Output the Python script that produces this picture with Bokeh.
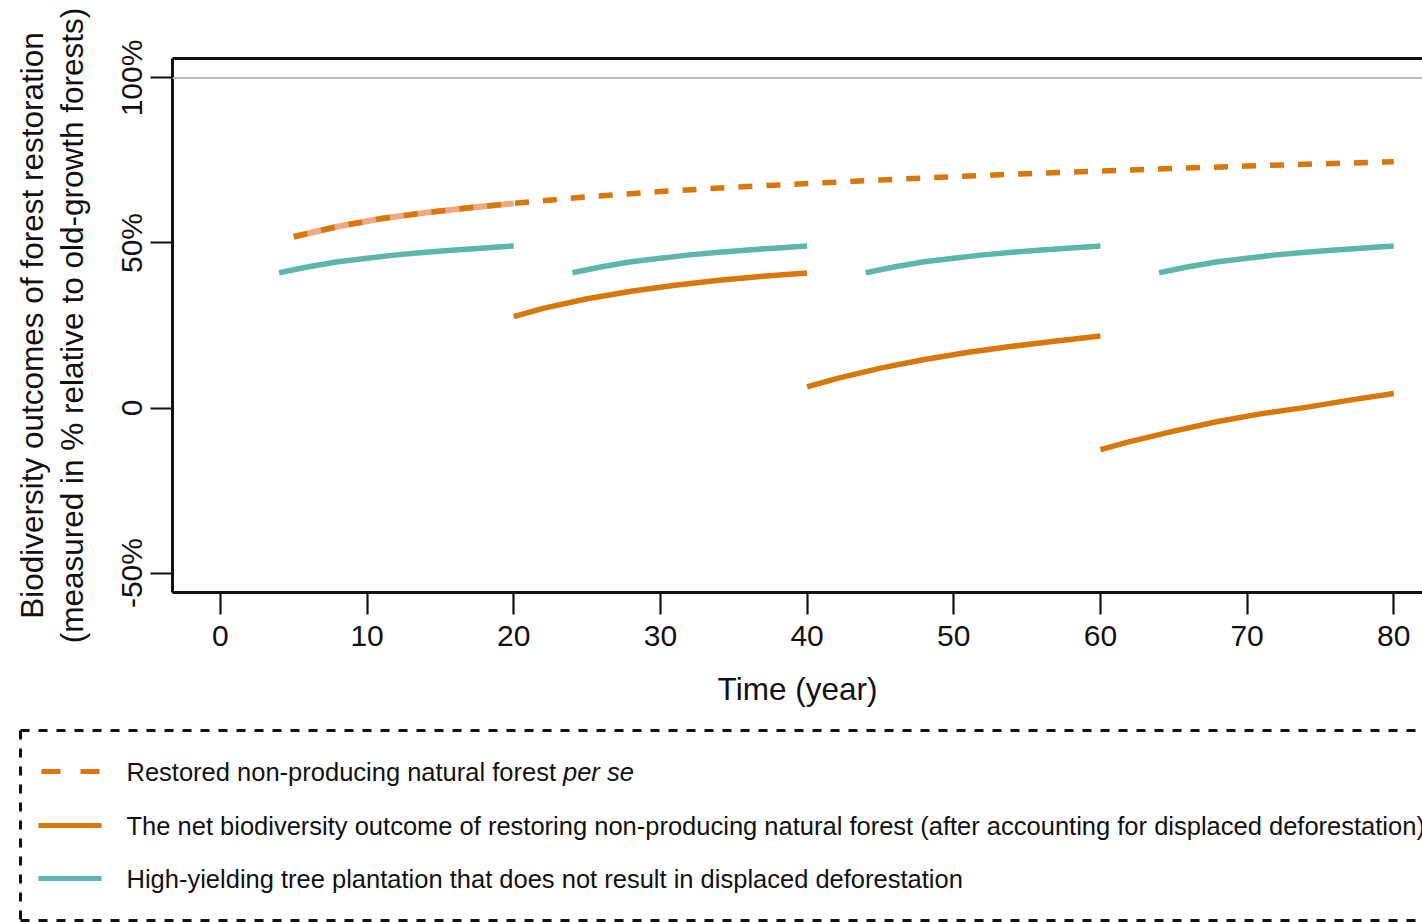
from bokeh.plotting import figure
from bokeh.models import Range1d, LinearAxis, FixedTicker, Span
from bokeh.embed import file_html
from bokeh.resources import INLINE
from bokeh.core.properties import value

FONT = "Liberation Sans"
INK = "#111111"
ORANGE = "#d8770b"
ORANGE_LIGHT = "#eeaa7e"
TEAL = "#5cb6aa"

# Restored non-producing natural forest (per se), biodiversity in % of old growth
natural_years = [5, 8, 11, 14, 17, 20, 25, 30, 35, 40, 45, 50, 55, 60, 65, 70, 75, 80]
natural_values = [51.9, 55.0, 57.4, 59.2, 60.7, 62.0, 64.0, 65.6, 66.9, 68.0,
                  69.1, 70.1, 71.0, 71.8, 72.6, 73.3, 74.0, 74.6]
first_rotation_end = 20

# Net outcome of restoration after displaced deforestation, one run per rotation
net_years_1 = [20, 22, 25, 28, 31, 34, 37, 40]
net_values_1 = [27.7, 30.2, 33.1, 35.4, 37.2, 38.7, 39.9, 40.9]
net_years_2 = [40, 42, 45, 48, 51, 54, 57, 60]
net_values_2 = [6.4, 8.9, 12.1, 14.7, 16.9, 18.7, 20.3, 21.8]
net_years_3 = [60, 62, 65, 68, 71, 74, 77, 80]
net_values_3 = [-12.6, -10.2, -7.0, -4.1, -1.7, 0.2, 2.4, 4.4]

# High-yielding plantation: same growth curve within each 20-year rotation
plantation_age = [4, 6, 8, 10, 12, 14, 16, 18, 20]
plantation_values = [41.0, 42.8, 44.3, 45.4, 46.4, 47.2, 47.9, 48.5, 49.1]
rotation_starts = [0, 20, 40, 60]

x_ticks = [0, 10, 20, 30, 40, 50, 60, 70, 80]
y_ticks = [-50, 0, 50, 100]
y_tick_labels = ["-50%", "0", "50%", "100%"]
reference_level = 100

legend_labels = [
    "Restored non-producing natural forest",
    "The net biodiversity outcome of restoring non-producing natural forest (after accounting for displaced deforestation)",
    "High-yielding tree plantation that does not result in displaced deforestation",
]
legend_italic_suffix = "per se"

# ---------------------------------------------------------------- main panel
p = figure(width=1422, height=710,
           x_range=Range1d(-3.27, 81.96), y_range=Range1d(-55.9, 105.9),
           output_backend="svg", toolbar_location=None,
           min_border_left=172, min_border_right=0,
           min_border_top=58, min_border_bottom=118)
p.grid.visible = False
p.outline_line_color = None
p.background_fill_color = "white"
p.border_fill_color = "white"

xa = p.xaxis[0]
xa.ticker = FixedTicker(ticks=x_ticks)
xa.axis_label = "Time (year)"
ya = p.yaxis[0]
ya.ticker = FixedTicker(ticks=y_ticks)
ya.major_label_overrides = dict(zip(y_ticks, y_tick_labels))
ya.major_label_orientation = "vertical"
ya.axis_label = "Biodiversity outcomes of forest restoration\n(measured in % relative to old-growth forests)"

for ax in (xa, ya):
    ax.axis_line_width = 3
    ax.axis_line_color = INK
    ax.major_tick_line_width = 2.2
    ax.major_tick_line_color = INK
    ax.major_tick_out = 22
    ax.major_tick_in = 0
    ax.minor_tick_out = 0
    ax.minor_tick_in = 0
    ax.major_label_text_font = FONT
    ax.major_label_text_font_size = "30px"
    ax.major_label_text_color = INK
    ax.axis_label_text_font = FONT
    ax.axis_label_text_font_size = "31.5px"
    ax.axis_label_text_font_style = "normal"
    ax.axis_label_text_color = INK
xa.major_label_standoff = 11
xa.axis_label_standoff = 22
ya.major_label_standoff = 2
ya.axis_label_standoff = 23
ya.axis_label_text_line_height = 1.1

top = LinearAxis(ticker=FixedTicker(ticks=[]), axis_line_width=3, axis_line_color=INK,
                 major_tick_out=0, major_tick_in=0, minor_tick_out=0, minor_tick_in=0,
                 major_label_text_font_size="0px")
p.add_layout(top, "above")

p.add_layout(Span(location=reference_level, dimension="width",
                  line_color="#bdbdbd", line_width=2))

# plantation rotations
p.multi_line(xs=[[s + a for a in plantation_age] for s in rotation_starts],
             ys=[plantation_values for _ in rotation_starts],
             line_color=TEAL, line_width=5.5, line_join="round")

# net outcome runs
p.multi_line(xs=[net_years_1, net_years_2, net_years_3],
             ys=[net_values_1, net_values_2, net_values_3],
             line_color=ORANGE, line_width=5.5, line_join="round")

# natural forest: first rotation highlighted beneath the dashed trajectory
first_x = [x for x in natural_years if x <= first_rotation_end]
first_y = natural_values[:len(first_x)]
p.line(first_x, first_y, line_color=ORANGE_LIGHT, line_width=6, line_join="round")
p.line(natural_years, natural_values, line_color=ORANGE, line_width=5.5, line_dash="14 14")

# ---------------------------------------------------------------- legend panel
lg = figure(width=1422, height=212, x_range=Range1d(0, 1422), y_range=Range1d(212, 0),
            output_backend="svg", toolbar_location=None,
            x_axis_location=None, y_axis_location=None,
            min_border=0, min_border_left=0, min_border_right=0,
            min_border_top=0, min_border_bottom=0)
lg.grid.visible = False
lg.outline_line_color = None
lg.background_fill_color = "white"
lg.border_fill_color = "white"

lg.multi_line(xs=[[20, 1422], [20, 20], [20, 1422]],
              ys=[[20, 20], [20, 210], [210, 210]],
              line_color=INK, line_width=3, line_dash="9 9")

row_y = [61, 115, 168]
lg.line([41, 100], [row_y[0], row_y[0]], line_color=ORANGE, line_width=5, line_dash="19 20")
lg.line([38, 101], [row_y[1], row_y[1]], line_color=ORANGE, line_width=5)
lg.line([38, 101], [row_y[2], row_y[2]], line_color=TEAL, line_width=5)

lg.text(x=[126, 126, 126], y=row_y, text=legend_labels,
        text_font=value(FONT), text_font_size="25.5px", text_color=INK,
        text_baseline="middle", text_align="left")
lg.text(x=[562.5], y=[row_y[0]], text=[legend_italic_suffix],
        text_font=value(FONT), text_font_size="25.5px", text_color=INK,
        text_font_style="italic", text_baseline="middle", text_align="left")

open("out.html", "w").write(file_html([p, lg], INLINE))
